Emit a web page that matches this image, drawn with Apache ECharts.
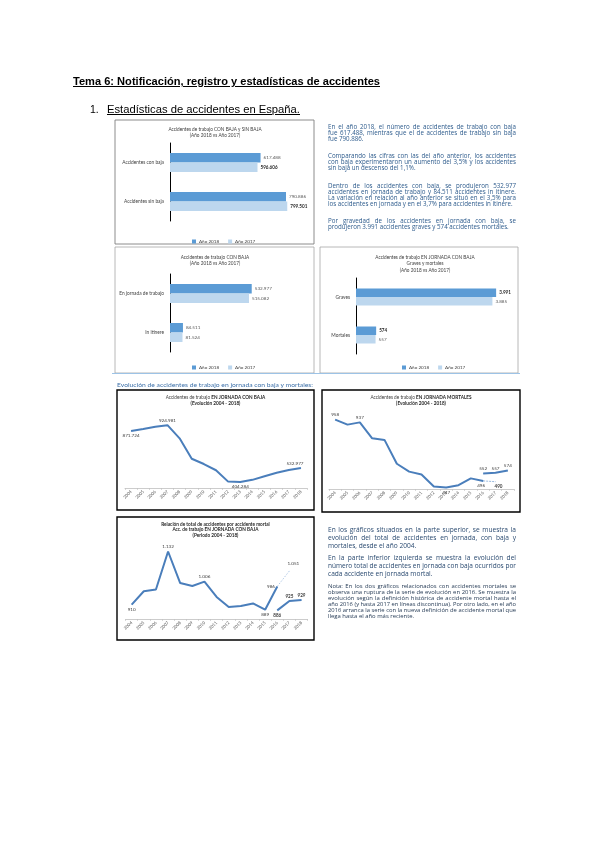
<!DOCTYPE html>
<html><head><meta charset="utf-8">
<script src="https://cdn.jsdelivr.net/npm/echarts@6/dist/echarts.min.js"></script>
<style>
html,body{margin:0;padding:0;background:#fff;}
#page{position:relative;width:600px;height:848px;overflow:hidden;background:#fff;}
#chart{position:absolute;left:0;top:0;width:600px;height:848px;}
.t{position:absolute;white-space:nowrap;transform-origin:0 50%;line-height:1;}
.blk{position:absolute;width:188px;}
.ln{white-space:nowrap;display:block;}
</style>
</head><body>
<div id="page">
<div id="chart"></div>
<div class="t" id="h1" data-w="307" style="left:73px;top:75px;font:bold 10.5px 'Liberation Sans',Arial,sans-serif;text-decoration:underline;color:#000;">Tema 6: Notificación, registro y estadísticas de accidentes</div>
<div class="t" style="left:90px;top:103px;font:10.5px 'Liberation Sans',Arial,sans-serif;color:#000;">1.</div>
<div class="t" id="h2" data-w="193" style="left:107px;top:103px;font:10.5px 'Liberation Sans',Arial,sans-serif;text-decoration:underline;color:#000;">Estadísticas de accidentes en España.</div>
<div class="t" id="cap" data-w="196" style="left:117px;top:381px;font:6.2px Lato,'Open Sans',sans-serif;color:#3b6fa8;">Evolución de accidentes de trabajo en jornada con baja y mortales:</div>
<div class="blk" id="txt1" style="left:328px;top:124px;"></div>
<div class="blk" id="txt2" style="left:328px;top:526px;"></div>
</div>
<script>
// ---------- DATA ----------
const years = ['2004','2005','2006','2007','2008','2009','2010','2011','2012','2013','2014','2015','2016','2017','2018'];
const seriesNames = ['Año 2018','Año 2017'];
const cats1 = ['Accidentes con baja','Accidentes sin baja'];
const bar1y2018 = [617488, 790886];
const bar1y2017 = [596606, 799501];
const cats2 = ['En jornada de trabajo','In itinere'];
const bar2y2018 = [532977, 84511];
const bar2y2017 = [515082, 81524];
const cats3 = ['Graves','Mortales'];
const bar3y2018 = [3991, 574];
const bar3y2017 = [3885, 557];
const jornadaBaja = [871724, 890872, 911561, 924981, 804959, 617440, 569523, 512584, 408537, 404284, 424625, 458023, 489065, 515082, 532977];
const mortalOld = [958, 920, 937, 817, 805, 625, 566, 544, 454, 447, 464, 515, 496, 490, null];
const mortalNew = [null, null, null, null, null, null, null, null, null, null, null, null, 552, 557, 574];
const ratioOld = [910, 966, 973, 1132, 1000, 988, 1006, 942, 900, 904, 915, 889, 986, 1051, null];
const ratioNew = [null, null, null, null, null, null, null, null, null, null, null, null, 886, 925, 929];

const text1 = [
 [["En el año 2018, el número de accidentes de trabajo con baja","fue 617.488, mientras que el de accidentes de trabajo sin baja","fue 790.886."], 'n'],
 [["Comparando las cifras con las del año anterior, los accidentes","con baja experimentaron un aumento del 3,5% y los accidentes","sin baja un descenso del 1,1%."], 'n'],
 [["Dentro de los accidentes con baja, se produjeron 532.977","accidentes en jornada de trabajo y 84.511 accidentes in itinere.","La variación en relación al año anterior se situó en el 3,5% para","los accidentes en jornada y en el 3,7% para accidentes in itinere."], 'n'],
 [["Por gravedad de los accidentes en jornada con baja, se","produjeron 3.991 accidentes graves y 574 accidentes mortales."], 'n']
];
const text2 = [
 [["En los gráficos situados en la parte superior, se muestra la","evolución del total de accidentes en jornada, con baja y","mortales, desde el año 2004."], 'a'],
 [["En la parte inferior izquierda se muestra la evolución del","número total de accidentes en jornada con baja ocurridos por","cada accidente en jornada mortal."], 'a'],
 [["Nota: En los dos gráficos relacionados con accidentes mortales se","observa una ruptura de la serie de evolución en 2016. Se muestra la","evolución según la definición histórica de accidente mortal hasta el","año 2016 (y hasta 2017 en líneas discontinua). Por otro lado, en el año","2016 arranca la serie con la nueva definición de accidente mortal que","llega hasta el año más reciente."], 'b']
];

// ---------- TEXT LAYOUT ----------
function buildBlock(el, paras, styles){
  paras.forEach((p, pi) => {
    const st = styles[p[1]];
    const pd = document.createElement('div');
    pd.style.marginBottom = (pi < paras.length-1 ? st.gap : 0) + 'px';
    p[0].forEach((line, li) => {
      const d = document.createElement('div');
      d.className = 'ln';
      d.style.font = st.font;
      d.style.color = st.color;
      d.style.height = st.lh + 'px';
      d.style.lineHeight = st.lh + 'px';
      const s = document.createElement('span');
      s.textContent = line;
      d.appendChild(s);
      pd.appendChild(d);
      d._last = li === p[0].length - 1; d._span = s;
    });
    el.appendChild(pd);
  });
  el.querySelectorAll('.ln').forEach(d => {
    const s = d._span;
    const w = s.getBoundingClientRect().width;
    const W = 188;
    if (w > W) { s.style.display='inline-block'; s.style.transformOrigin='0 50%'; s.style.transform = 'scaleX(' + (W/w) + ')'; }
    else if (!d._last) {
      const n = (s.textContent.match(/ /g) || []).length;
      if (n) s.style.wordSpacing = ((W - w) / n) + 'px';
    }
  });
}
const st = {
  n: {font:"6.2px 'Open Sans',Lato,sans-serif", color:'#2d5b8c', lh:6.1, gap:11},
  a: {font:"6.6px 'Open Sans',Lato,sans-serif", color:'#2a4a70', lh:7.8, gap:5},
  b: {font:"5.9px 'Open Sans',Lato,sans-serif", color:'#1f3550', lh:6, gap:0}
};
buildBlock(document.getElementById('txt1'), text1, st);
buildBlock(document.getElementById('txt2'), text2, st);
document.querySelectorAll('.t[data-w]').forEach(el => {
  const w = el.getBoundingClientRect().width;
  el.style.transform = 'scaleX(' + (parseFloat(el.dataset.w) / w) + ')';
});

// ---------- CHART ----------
const FONT = "Lato, 'Open Sans', sans-serif";
const DARK = '#5b9bd5', LIGHT = '#bdd7ee', LINE = '#4a7ebb';
const fmt = v => v == null ? '' : String(v).replace(/\B(?=(\d{3})+(?!\d))/g, '.');

const grids = [
  {left:170, top:143, width:132, height:78},
  {left:170, top:274, width:92, height:78},
  {left:356, top:278, width:158, height:76},
  {left:125, top:417, width:182, height:71},
  {left:329, top:414, width:185, height:75},
  {left:125.6, top:540, width:182, height:79}
];
const xMax = [900000, 600000, 4500];
const yRange = [[350000, 1000000], [435, 1000], [850, 1180]];

const xAxes = [], yAxes = [];
[cats1, cats2, cats3].forEach((c, i) => {
  xAxes.push({gridIndex:i, type:'value', min:0, max:xMax[i], show:false, splitLine:{show:false}});
  yAxes.push({gridIndex:i, type:'category', data:c, inverse:true,
    axisLine:{lineStyle:{color:'#000', width:1}}, axisTick:{show:false},
    axisLabel:{fontSize:4.8, color:'#404040', fontFamily:FONT, margin:6}});
});
[0,1,2].forEach(k => {
  const i = k + 3;
  xAxes.push({gridIndex:i, type:'category', data:years, boundaryGap:true,
    axisLine:{lineStyle:{color:'#bfbfbf', width:0.8}}, axisTick:{show:true, length:2, lineStyle:{color:'#bfbfbf', width:0.6}},
    axisLabel:{rotate:45, interval:0, fontSize:4.3, color:'#595959', fontFamily:FONT, margin:3}});
  yAxes.push({gridIndex:i, type:'value', min:yRange[k][0], max:yRange[k][1], show:false, splitLine:{show:false}});
});

function barSeries(idx, name, data, color, bold, bw){
  return {type:'bar', name, xAxisIndex:idx, yAxisIndex:idx, data, barWidth:bw, barGap:'0%',
    itemStyle:{color}, emphasis:{disabled:true}, silent:true,
    label:{show:true, position:'right', distance:3, fontSize:4.6, fontFamily:FONT,
      color: bold ? '#262626' : '#595959', fontWeight: bold ? 'bold' : 'normal',
      formatter:p => fmt(p.value)}};
}
function pick(arr, idxs){ return arr.map((v, i) => idxs.includes(i) ? v : null); }
function withLabels(arr, labels){
  return arr.map((v, i) => labels[i] ? {value:v, label:Object.assign({show:true}, labels[i])} : v);
}
function lineSeries(idx, data, style){
  const lc = (style && style.lineStyle && style.lineStyle.color) || LINE;
  return Object.assign({type:'line', xAxisIndex:idx, yAxisIndex:idx, data, symbol:'circle', symbolSize:0.5, showSymbol:true,
    showAllSymbol:true, silent:true, itemStyle:{color:lc},
    connectNulls:false, lineStyle:{color:LINE, width:2}, emphasis:{disabled:true},
    label:{show:false, fontSize:4.6, fontFamily:FONT, color:'#404040', distance:2, formatter:p => fmt(p.value)}}, style || {});
}
const idxSolid = [0,1,2,3,4,5,6,7,8,9,10,11,12];
const idxDash = [12,13];

const series = [
  barSeries(0, seriesNames[0], bar1y2018, DARK, false, 9.5),
  barSeries(0, seriesNames[1], bar1y2017, LIGHT, true, 9.5),
  barSeries(1, seriesNames[0], bar2y2018, DARK, false, 9.5),
  barSeries(1, seriesNames[1], bar2y2017, LIGHT, false, 9.5),
  barSeries(2, seriesNames[0], bar3y2018, DARK, true, 8.5),
  barSeries(2, seriesNames[1], bar3y2017, LIGHT, false, 8.5),
  lineSeries(3, withLabels(jornadaBaja, {0:{position:'bottom'}, 3:{position:'top'}, 9:{position:'bottom'}, 14:{position:'top', offset:[-6,0]}})),
  lineSeries(4, withLabels(pick(mortalOld, idxSolid), {0:{position:'top'}, 2:{position:'top'}, 9:{position:'bottom'}, 12:{position:'bottom', offset:[-2,0]}})),
  lineSeries(4, withLabels(pick(mortalOld, idxDash), {13:{position:'bottom', offset:[3,0], fontWeight:'bold'}}), {lineStyle:{color:'#7fa7d6', width:0.8, type:[2,1]}}),
  lineSeries(4, withLabels(mortalNew, {12:{position:'top'}, 13:{position:'top'}, 14:{position:'top'}})),
  lineSeries(5, withLabels(pick(ratioOld, idxSolid), {0:{position:'bottom'}, 3:{position:'top'}, 6:{position:'top'}, 11:{position:'bottom'}, 12:{position:'left'}})),
  lineSeries(5, withLabels(pick(ratioOld, idxDash), {13:{position:'top', offset:[4,-3]}}), {lineStyle:{color:'#9dbbe0', width:0.8, type:[1.5,1.5]}}),
  lineSeries(5, withLabels(ratioNew, {12:{position:'bottom', fontWeight:'bold'}, 13:{position:'top', fontWeight:'bold'}, 14:{position:'top', fontWeight:'bold'}}))
];

const legendBase = {orient:'horizontal', itemWidth:4, itemHeight:4, itemGap:9, icon:'rect', selectedMode:false,
  data:seriesNames, textStyle:{fontSize:4.6, color:'#404040', fontFamily:FONT, padding:[0,0,0,-2]}};
const legends = [
  Object.assign({left:187, top:234}, legendBase),
  Object.assign({left:187, top:360}, legendBase),
  Object.assign({left:397, top:360}, legendBase)
];

function rect(x, y, w, h, color, lw){
  return {type:'rect', shape:{x, y, width:w, height:h}, style:{fill:'none', stroke:color, lineWidth:lw}, silent:true};
}
function ttl(x, y, lines){
  return lines.map((l, i) => ({type:'text', x, y: y + i * l.dy, silent:true,
    style:{text:l.t, rich:{n:{fontSize:4.7, fontFamily:FONT, fill:'#404040'}, b:{fontSize:4.7, fontFamily:FONT, fill:'#262626', fontWeight:'bold'}},
      fontSize:4.7, fontFamily:FONT, fill:'#404040', align:'center', verticalAlign:'middle'}}));
}
const graphics = [
  rect(115, 120, 199, 124, '#7f7f7f', 0.9),
  rect(115, 247, 199, 126, '#a6a6a6', 0.8),
  rect(320, 247, 198, 126, '#a6a6a6', 0.8),
  {type:'line', shape:{x1:112, y1:373.5, x2:520, y2:373.5}, style:{stroke:'#9dc3e6', lineWidth:1.2}, silent:true},
  rect(117, 390, 197, 120, '#000', 1.4),
  rect(322, 390, 198, 122, '#000', 1.4),
  rect(117, 517, 197, 123, '#000', 1.4),
  ...ttl(215, 129, [{t:'{n|Accidentes de trabajo CON BAJA y SIN BAJA}', dy:6}, {t:'{n|(Año 2018 vs Año 2017)}', dy:6}]),
  ...ttl(215, 257, [{t:'{n|Accidentes de trabajo CON BAJA}', dy:6.5}, {t:'{n|(Año 2018 vs Año 2017)}', dy:6.5}]),
  ...ttl(425, 257, [{t:'{n|Accidentes de trabajo EN JORNADA CON BAJA}', dy:6.5}, {t:'{n|Graves y mortales}', dy:6.5}, {t:'{n|(Año 2018 vs Año 2017)}', dy:6.5}]),
  ...ttl(215.5, 397, [{t:'{n|Accidentes de trabajo }{b|EN JORNADA CON BAJA}', dy:6}, {t:'{b|(Evolución 2004 - 2018)}', dy:6}]),
  ...ttl(421, 397, [{t:'{n|Accidentes de trabajo }{b|EN JORNADA MORTALES}', dy:6}, {t:'{b|(Evolución 2004 - 2018)}', dy:6}]),
  ...ttl(215.5, 524, [{t:'{b|Relación de total de accidentes por accidente mortal}', dy:5.5}, {t:'{b|Acc. de trabajo EN JORNADA CON BAJA}', dy:5.5}, {t:'{b|(Periodo 2004 - 2018)}', dy:5.5}])
];

const chart = echarts.init(document.getElementById('chart'));
chart.setOption({
  backgroundColor:'transparent',
  animation:false,
  textStyle:{fontFamily:FONT},
  grid:grids,
  xAxis:xAxes,
  yAxis:yAxes,
  legend:legends,
  series,
  graphic:graphics
});
</script>
</body></html>
